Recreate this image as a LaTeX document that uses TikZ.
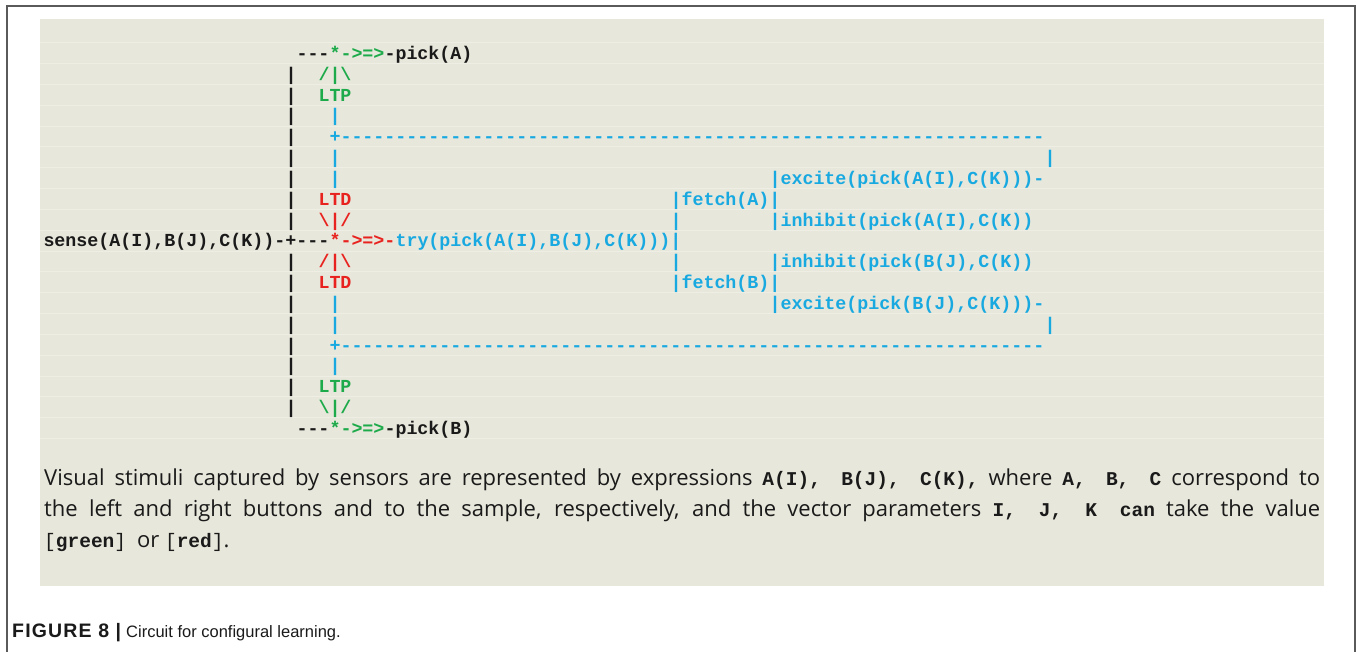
\documentclass[tikz,border=0pt]{standalone}
\usepackage{fontspec}
\setmainfont{Open Sans}
\newfontfamily\codefont{Liberation Mono}
\newfontfamily\capfont{Liberation Sans}
\definecolor{paper}{HTML}{E8E7DB}
\definecolor{framegray}{HTML}{5A5A5A}
\definecolor{ltp}{HTML}{1DAA4A}
\definecolor{ltd}{HTML}{E8231F}
\definecolor{net}{HTML}{19A9E1}
\definecolor{ink}{HTML}{1A1A1A}
\newcommand\dashrun[1]{\foreach\k in {1,...,#1}{-\kern0pt}}
\newcommand\cw[1]{{\codefont\bfseries\fontsize{19.5pt}{20pt}\selectfont#1}}
\newcommand\cn[1]{{\codefont\fontsize{19.5pt}{20pt}\selectfont#1}}
\tikzset{
  code/.style={anchor=base west, inner sep=0pt, outer sep=0pt, text=ink,
    font=\codefont\bfseries\fontsize{18.33pt}{20pt}\selectfont},
  note/.style={anchor=base west, inner sep=0pt, text=ink,
    font=\fontsize{22pt}{31pt}\selectfont},
}
\begin{document}
\begin{tikzpicture}[x=1pt, y=-1pt]
    \useasboundingbox (0,0) rectangle (1357,652);
    \fill[white] (0,0) rectangle (1357,652);
    \draw[framegray, line width=2pt] (7,652) -- (7,6) -- (1355,6) -- (1355,652);
    \fill[paper] (40,19) rectangle (1324,586);
    \foreach \k in {0,...,19}
      \draw[paper!72!white, line width=0.5pt] (40,{42.6+20.83*\k}) -- (1324,{42.6+20.83*\k});

    \begin{scope}[x=11pt, y=-20.83pt, xshift=43.5pt, yshift=-38.67pt]
    \node[code] (leadA) at (23,1) {\dashrun{3}};
    \node[code,text=ltp] (synA) at (26,1) {*->=>};
    \node[code] (pickA) at (31,1) {-pick(A)};

    \foreach \r in {2,...,9,11,12,...,18}
      \node[code] (bar\r) at (22,\r) {|};

    \node[code,text=ltp] (forkA) at (25,2) {/|\textbackslash};
    \node[code,text=ltp] (ltpA) at (25,3) {LTP};
    \node[code,text=ltd] (ltdA) at (25,8) {LTD};
    \node[code,text=ltd] (joinA) at (25,9) {\textbackslash|/};
    \node[code,text=ltd] (forkB) at (25,11) {/|\textbackslash};
    \node[code,text=ltd] (ltdB) at (25,12) {LTD};
    \node[code,text=ltp] (ltpB) at (25,17) {LTP};
    \node[code,text=ltp] (joinB) at (25,18) {\textbackslash|/};

    \foreach \r in {4,6,7,13,14,16}
      \node[code,text=net] (wire\r) at (26,\r) {|};
    \node[code,text=net] (loopA) at (26,5) {+\dashrun{64}};
    \node[code,text=net] (loopB) at (26,15) {+\dashrun{64}};
    \node[code,text=net] (backA) at (91,6) {|};
    \node[code,text=net] (backB) at (91,14) {|};

    \node[code,text=net] (exciteA) at (66,7) {|excite(pick(A(I),C(K)))-};
    \node[code,text=net] (fetchA) at (57,8) {|fetch(A)|};
    \node[code,text=net] (stemA) at (57,9) {|};
    \node[code,text=net] (inhibitA) at (66,9) {|inhibit(pick(A(I),C(K))};

    \node[code] (sense) at (0,10) {sense(A(I),B(J),C(K))-+\dashrun{3}};
    \node[code,text=ltd] (trysyn) at (26,10) {*->=>-};
    \node[code,text=net] (try) at (32,10) {try(pick(A(I),B(J),C(K)))|};

    \node[code,text=net] (stemB) at (57,11) {|};
    \node[code,text=net] (inhibitB) at (66,11) {|inhibit(pick(B(J),C(K))};
    \node[code,text=net] (fetchB) at (57,12) {|fetch(B)|};
    \node[code,text=net] (exciteB) at (66,13) {|excite(pick(B(J),C(K)))-};

    \node[code] (leadB) at (23,19) {\dashrun{3}};
    \node[code,text=ltp] (synB) at (26,19) {*->=>};
    \node[code] (pickB) at (31,19) {-pick(B)};
    \end{scope}

    \node[note] (note1) at (44,485) {\hbox to 1276pt{Visual stimuli captured by sensors are represented by expressions \cw{A(I), B(J), C(K),} where \cw{A, B, C} correspond to}};
    \node[note] (note2) at (44,516) {\hbox to 1276pt{the left and right buttons and to the sample, respectively, and the vector parameters \cw{I, J, K can}\enspace take the value}};
    \node[note] (note3) at (44,547) {\cn{[}\cw{green}\cn{]}\enspace or \cn{[}\cw{red}\cn{]}.};

    \node[anchor=base west, inner sep=0pt, text=ink, font=\capfont\fontsize{16.5pt}{20pt}\selectfont] (figcap) at (12,637) {{\addfontfeature{LetterSpace=6}\fontsize{19.5pt}{20pt}\selectfont\bfseries FIGURE 8 |}\hspace{5pt}Circuit for configural learning.};
\end{tikzpicture}
\end{document}
